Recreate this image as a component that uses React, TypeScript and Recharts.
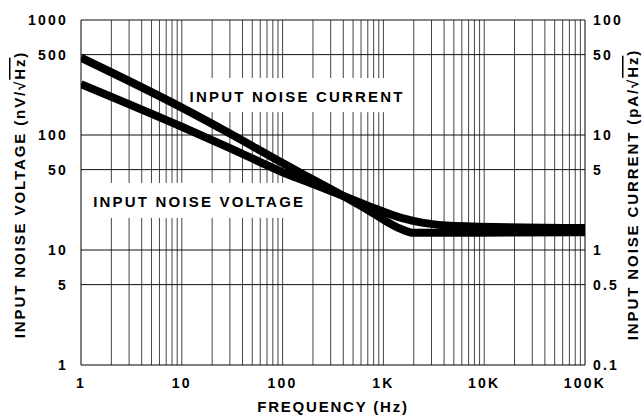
import React from "react";
import {
  LineChart,
  Line,
  XAxis,
  YAxis,
  ReferenceLine,
  ReferenceArea,
} from "recharts";

// frequency axis (Hz)
const xTicks = [1, 10, 100, 1000, 10000, 100000];
const xTickLabels = ["1", "10", "100", "1K", "10K", "100K"];
const decades = [1, 10, 100, 1000, 10000];
const steps = [1, 2, 3, 4, 5, 6, 7, 8, 9];

// left axis nV/√Hz, right axis pA/√Hz
const voltTicks = [1, 5, 10, 50, 100, 500, 1000];
const currTicks = [0.1, 0.5, 1, 5, 10, 50, 100];

// input noise voltage (nV/√Hz)
const voltageFreq = [1, 10, 30, 100, 200, 400, 700, 1500, 2500, 5000, 100000];
const voltageNoise = [277, 118, 77, 47.5, 37.5, 29.5, 24.3, 19, 17.2, 16.2, 15.5];

// input noise current (pA/√Hz)
const currentFreq = [1, 10, 30, 100, 200, 400, 700, 1500, 2000, 5000, 100000];
const currentNoise = [47, 17.3, 10.3, 5.7, 4.1, 2.95, 2.23, 1.52, 1.41, 1.41, 1.43];

// white boxes behind the curve names, in axis units (Hz, nV/√Hz)
const currentBox = { x1: 12.5, x2: 1800, y1: 158, y2: 313 };
const voltageBox = { x1: 1.05, x2: 165, y1: 19, y2: 38.3 };

const voltageData = voltageFreq.map((f, i) => ({ f, v: voltageNoise[i] }));
const currentData = currentFreq.map((f, i) => ({ f, v: currentNoise[i] }));

const gridX = decades
  .flatMap((d) => steps.map((s) => s * d))
  .filter((f) => f > 1);
const gridY = voltTicks.filter((v) => v > 1);

// split each vertical grid line where it passes under a label box
function segmentsFor(f: number) {
  const gaps = [voltageBox, currentBox]
    .filter((b) => f >= b.x1 && f <= b.x2)
    .sort((a, b) => a.y1 - b.y1);
  const segs: [number, number][] = [];
  let from = 1;
  gaps.forEach((g) => {
    segs.push([from, g.y1]);
    from = g.y2;
  });
  segs.push([from, 1000]);
  return segs;
}

const FONT = "'Liberation Sans', Arial, sans-serif";
const tickStyle = {
  fill: "#000",
  fontSize: 14,
  fontWeight: 700,
  fontFamily: FONT,
  letterSpacing: 2.2,
};

function AxisTitle({ viewBox, side, text }: any) {
  const cx = side === "left" ? viewBox.x + 19 : viewBox.x + 47;
  const cy = viewBox.y + viewBox.height / 2 + 2;
  return (
    <text
      x={cx}
      y={cy}
      transform={`rotate(-90 ${cx} ${cy})`}
      textAnchor="middle"
      dominantBaseline="central"
      fontFamily={FONT}
      fontWeight={700}
      fontSize={15}
      letterSpacing={1.9}
      fill="#000"
    >
      {text}
      <tspan textDecoration="overline" style={{ textDecoration: "overline" }}>
        Hz
      </tspan>
      )
    </text>
  );
}

function SeriesTag({ viewBox, text, dx }: any) {
  return (
    <text
      x={viewBox.x + dx}
      y={viewBox.y + viewBox.height / 2 + 1}
      dominantBaseline="central"
      fontFamily={FONT}
      fontWeight={700}
      fontSize={15}
      letterSpacing={2.2}
      fill="#000"
    >
      {text}
    </text>
  );
}

export default function App() {
  return (
    <div style={{ position: "absolute", left: 0, top: 0, background: "#fff" }}>
      <LineChart
        width={642}
        height={417}
        margin={{ top: 20, right: 0, bottom: 0, left: 0 }}
      >
        <XAxis
          type="number"
          dataKey="f"
          scale="log"
          domain={[1, 100000]}
          allowDataOverflow
          ticks={xTicks}
          interval={0}
          tickFormatter={(v) => xTickLabels[xTicks.indexOf(v)]}
          tickLine={false}
          tickMargin={7}
          tick={tickStyle}
          axisLine={{ stroke: "#000" }}
          height={52}
          label={{
            content: ({ viewBox }: any) => (
              <text
                x={viewBox.x + viewBox.width / 2}
                y={406}
                textAnchor="middle"
                dominantBaseline="central"
                fontFamily={FONT}
                fontWeight={700}
                fontSize={15}
                letterSpacing={1.8}
                fill="#000"
              >
                FREQUENCY (Hz)
              </text>
            ),
          }}
        />
        <YAxis
          yAxisId="left"
          scale="log"
          domain={[1, 1000]}
          allowDataOverflow
          ticks={voltTicks}
          interval={0}
          tickLine={false}
          tickMargin={7}
          tick={tickStyle}
          axisLine={{ stroke: "#000" }}
          width={81}
          label={{
            content: ({ viewBox }: any) => (
              <AxisTitle
                viewBox={viewBox}
                side="left"
                text="INPUT NOISE VOLTAGE (nV/√"
              />
            ),
          }}
        />
        <YAxis
          yAxisId="right"
          orientation="right"
          scale="log"
          domain={[0.1, 100]}
          allowDataOverflow
          ticks={currTicks}
          interval={0}
          tickLine={false}
          tickMargin={2}
          tick={tickStyle}
          axisLine={{ stroke: "#000" }}
          width={57}
          label={{
            content: ({ viewBox }: any) => (
              <AxisTitle
                viewBox={viewBox}
                side="right"
                text="INPUT NOISE CURRENT (pA/√"
              />
            ),
          }}
        />

        {gridX.flatMap((f) =>
          segmentsFor(f).map(([a, b]) => (
            <ReferenceLine
              key={`x${f}-${a}`}
              yAxisId="left"
              segment={[
                { x: f, y: a },
                { x: f, y: b },
              ]}
              stroke="#444"
              strokeWidth={1}
            />
          ))
        )}
        {gridY.map((v) => (
          <ReferenceLine
            key={"y" + v}
            y={v}
            yAxisId="left"
            stroke="#111"
            strokeWidth={1}
          />
        ))}

        <ReferenceArea
          yAxisId="left"
          {...currentBox}
          fill="none"
          stroke="none"
          label={{
            content: ({ viewBox }: any) => (
              <SeriesTag viewBox={viewBox} text="INPUT NOISE CURRENT" dx={-2} />
            ),
          }}
        />
        <ReferenceArea
          yAxisId="left"
          {...voltageBox}
          fill="none"
          stroke="none"
          label={{
            content: ({ viewBox }: any) => (
              <SeriesTag viewBox={viewBox} text="INPUT NOISE VOLTAGE" dx={10} />
            ),
          }}
        />

        <Line
          yAxisId="left"
          data={voltageData}
          dataKey="v"
          type="monotone"
          stroke="#000"
          strokeWidth={8}
          dot={false}
          isAnimationActive={false}
        />
        <Line
          yAxisId="right"
          data={currentData}
          dataKey="v"
          type="monotone"
          stroke="#000"
          strokeWidth={8}
          dot={false}
          isAnimationActive={false}
        />
      </LineChart>
    </div>
  );
}
